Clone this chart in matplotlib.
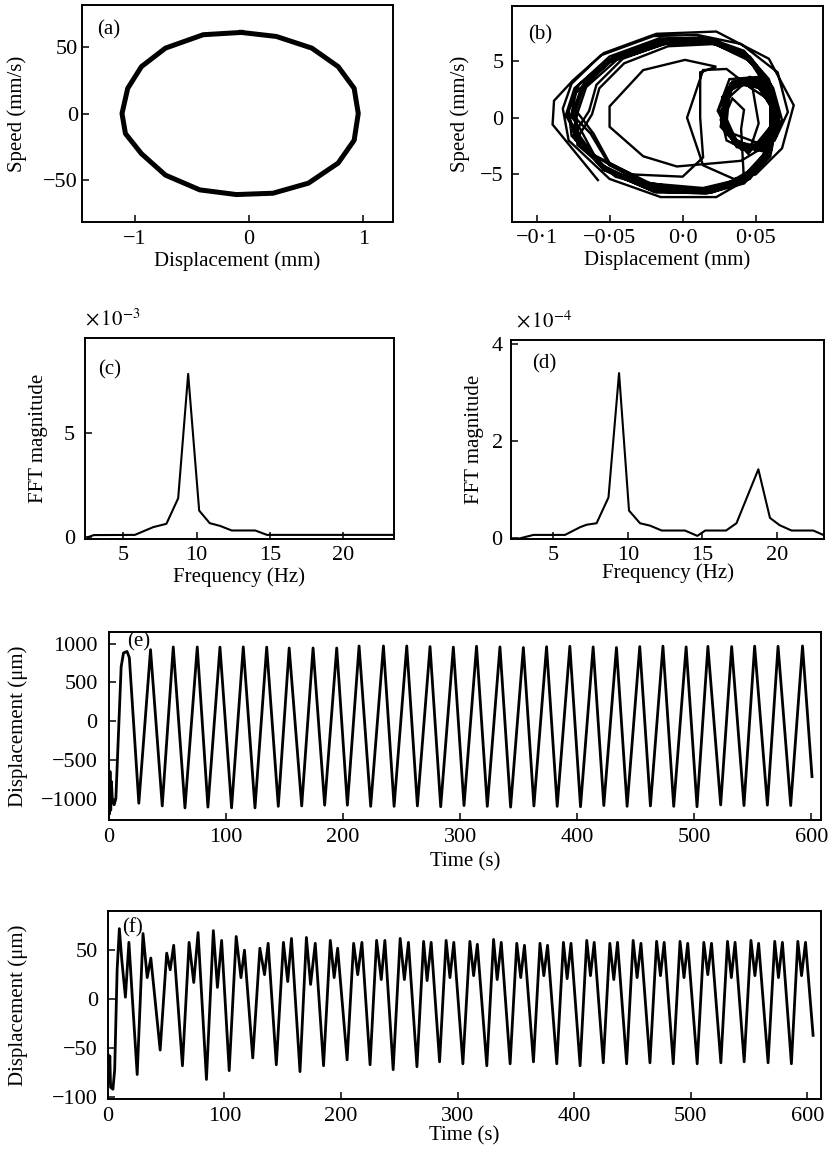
import matplotlib
matplotlib.use('Agg')
from matplotlib import pyplot as plt

plt.rcParams['font.family'] = ['Liberation Serif', 'DejaVu Serif']
plt.rcParams['mathtext.fontset'] = 'stix'
plt.rcParams['axes.unicode_minus'] = True

# (a) phase plane, large orbit
a_disp = [-0.067, 0.24, 0.55, 0.78, 0.92, 0.956, 0.92, 0.78, 0.52, 0.21, -0.11,
          -0.43, -0.73, -0.94, -1.08, -1.11, -1.06, -0.94, -0.73, -0.40, -0.067]
a_speed = [60.5, 57.5, 48.8, 35.0, 18.8, 0.0, -20.0, -37.0, -52.0, -59.5, -60.5,
           -57.0, -46.0, -30.0, -15.0, 0.0, 18.8, 35.0, 48.8, 58.8, 60.5]

# (b) phase plane, small orbit (trajectory vertices)
b_disp = [-0.058, -0.089, -0.088, -0.075, -0.054, -0.018, 0.023, 0.059, 0.076, 0.068, 0.050, 0.035,
          0.014, 0.003, 0.014, 0.030, 0.048, 0.052, 0.045,
          0.037, 0.030, 0.031, 0.034, 0.042, 0.040,
          0.042, 0.023, -0.015, -0.050, -0.078,
          -0.082, -0.076, -0.056, -0.020, 0.010, 0.040, 0.065, 0.072, 0.063, 0.040, 0.023,
          -0.004, -0.027, -0.050, -0.050, -0.027, 0.0016, 0.023, 0.012, 0.012, 0.014, 0.000, -0.035, -0.065,
          -0.080, -0.074, -0.052, -0.018, 0.014, 0.040, 0.058, 0.064, 0.055, 0.030, 0.027, 0.040, 0.060, 0.060, 0.045, 0.018, -0.020, -0.055, -0.076,
          -0.078, -0.071, -0.048, -0.014, 0.018, 0.043, 0.061, 0.066, 0.056, 0.036, 0.024, 0.032, 0.052, 0.063, 0.058, 0.040, 0.012, -0.024, -0.058, -0.075,
          -0.072, -0.066, -0.045, -0.012, 0.020, 0.045, 0.060, 0.062, 0.050, 0.032, 0.028, 0.036, 0.055, 0.066, 0.056, 0.036, 0.008, -0.030, -0.060, -0.070,
          -0.076, -0.070, -0.050, -0.016, 0.016, 0.042, 0.059, 0.065, 0.060, 0.040, 0.026, 0.030, 0.046, 0.062, 0.064, 0.050, 0.024, -0.015, -0.050, -0.073,
          -0.062, -0.057, -0.040, -0.010, 0.022, 0.046, 0.060, 0.060, 0.046, 0.030, 0.025, 0.033, 0.050, 0.062, 0.057, 0.040, 0.014, -0.022, -0.050, -0.061,
          -0.074, -0.066, -0.044, -0.010, 0.022, 0.046, 0.062, 0.068, 0.058, 0.038, 0.029, 0.034, 0.052, 0.065, 0.060, 0.042, 0.016, -0.020, -0.054, -0.072,
          -0.077, -0.073, -0.054, -0.020, 0.012, 0.038, 0.056, 0.064, 0.062, 0.044, 0.030, 0.030, 0.042, 0.058, 0.063, 0.052, 0.028, -0.008, -0.046, -0.072,
          -0.074, -0.068, -0.047, -0.013, 0.019, 0.044, 0.060, 0.063, 0.053, 0.034, 0.027, 0.034, 0.052, 0.064, 0.058, 0.040, 0.012, -0.024, -0.056, -0.073,
          -0.079, -0.072, -0.050, -0.016, 0.016, 0.042, 0.060, 0.066, 0.058, 0.038, 0.026, 0.031, 0.048, 0.063, 0.061, 0.046, 0.020, -0.018, -0.054, -0.075,
          -0.064, -0.059, -0.041, -0.011, 0.021, 0.045, 0.061, 0.064, 0.054, 0.036, 0.027, 0.032, 0.049, 0.064, 0.059, 0.043, 0.016, -0.020, -0.050, -0.063,
          -0.075, -0.069, -0.049, -0.015, 0.017, 0.043, 0.059, 0.064, 0.057, 0.037, 0.028, 0.030, 0.045, 0.061, 0.062, 0.049, 0.022, -0.016, -0.051, -0.073,
          -0.073, -0.067, -0.046, -0.012, 0.020, 0.045, 0.061, 0.066, 0.056, 0.035, 0.026, 0.033, 0.051, 0.065, 0.059, 0.041, 0.014, -0.022, -0.055, -0.071,
          -0.074]
b_speed = [-5.5, -0.6, 1.5, 3.3, 5.7, 7.4, 7.6, 5.2, 1.1, -2.7, -5.0, -5.4,
           -4.2, 0.0, 4.2, 4.3, 2.5, -0.5, -3.2,
           -2.0, -0.5, 0.8, 1.7, 0.7, -1.0,
           -5.6, -7.0, -7.0, -5.4, -2.0,
           0.8, 3.0, 5.5, 7.2, 7.3, 6.5, 4.0, 0.5, -2.0, -3.8, -4.0,
           -4.3, -3.4, -0.8, 1.0, 4.2, 5.1, 4.5, 4.0, 0.0, -3.5, -5.2, -5.0, -3.0,
           0.2, 2.6, 5.0, 6.6, 6.9, 5.8, 3.2, 0.4, -2.4, -1.2, 1.8, 3.2, 1.5, -2.5, -5.0, -6.4, -6.3, -4.4, -1.6,
           0.6, 2.9, 5.3, 6.8, 6.9, 5.5, 2.8, 0.0, -2.8, -2.2, 0.6, 3.4, 3.6, 0.8, -3.2, -5.6, -6.6, -6.1, -4.0, -1.2,
           0.4, 2.7, 5.1, 6.5, 6.6, 5.2, 2.5, -0.4, -2.9, -1.6, 1.2, 3.0, 2.6, -0.2, -3.6, -5.8, -6.4, -5.6, -3.4, -1.0,
           0.1, 2.4, 5.0, 6.9, 7.1, 5.9, 3.4, 0.8, -2.0, -2.8, -0.8, 2.4, 3.6, 2.0, -1.6, -4.6, -6.2, -6.5, -4.8, -2.0,
           0.3, 2.6, 4.8, 6.3, 6.5, 5.0, 2.2, -0.8, -3.0, -2.0, 0.8, 3.0, 3.2, 0.6, -3.0, -5.4, -6.2, -5.8, -4.0, -1.4,
           0.8, 3.2, 5.6, 6.9, 6.8, 5.4, 2.6, -0.2, -3.0, -2.4, 0.2, 2.8, 3.0, 0.2, -3.4, -5.8, -6.7, -6.5, -4.6, -1.8,
           -0.2, 2.2, 4.7, 6.4, 6.8, 5.9, 3.6, 1.0, -1.4, -3.0, -1.4, 1.6, 3.0, 2.4, -1.0, -4.2, -6.0, -6.6, -5.2, -2.4,
           0.5, 2.9, 5.2, 6.7, 6.8, 5.5, 2.8, 0.0, -2.6, -2.0, 0.6, 3.2, 3.4, 0.6, -3.2, -5.6, -6.5, -6.2, -4.2, -1.4,
           0.3, 2.8, 5.4, 7.0, 7.0, 5.7, 3.0, 0.2, -2.6, -2.6, -0.2, 2.6, 3.4, 1.2, -2.8, -5.4, -6.6, -6.6, -4.6, -1.6,
           0.6, 2.9, 5.2, 6.6, 6.6, 5.3, 2.7, -0.2, -2.8, -2.4, 0.0, 2.6, 3.2, 0.4, -3.2, -5.6, -6.4, -6.0, -4.2, -1.4,
           0.2, 2.6, 5.0, 6.7, 6.9, 5.7, 3.1, 0.5, -2.2, -2.6, -0.6, 2.2, 3.3, 1.8, -1.8, -4.8, -6.3, -6.4, -4.6, -1.8,
           0.7, 3.0, 5.4, 6.8, 6.7, 5.3, 2.6, -0.3, -3.0, -2.3, 0.4, 3.0, 3.3, 0.4, -3.3, -5.7, -6.6, -6.3, -4.4, -1.5,
           0.5]

# (c), (d) spectra
c_freq = [2.6, 3.0, 5.8, 7.05, 7.95, 8.75, 9.43, 10.18, 10.9, 11.6, 12.4, 14.0, 14.8, 23.5]
c_mag = [0.0, 0.1, 0.11, 0.48, 0.64, 1.86, 7.8, 1.27, 0.67, 0.54, 0.32, 0.32, 0.11, 0.11]
d_freq = [2.16, 2.76, 3.66, 5.78, 6.8, 7.24, 7.9, 8.7, 9.41, 10.08, 10.82, 11.5, 12.28, 13.84,
          14.67, 15.2, 16.6, 17.3, 18.77, 19.55, 20.2, 21.0, 22.46, 23.13, 23.3]
d_mag = [-0.03, 0.0, 0.07, 0.07, 0.23, 0.28, 0.31, 0.84, 3.4, 0.57, 0.31, 0.26, 0.16, 0.16,
         0.05, 0.16, 0.16, 0.31, 1.42, 0.42, 0.27, 0.16, 0.16, 0.07, 0.07]

# (e) time history, large orbit (peaks/troughs)
e_time = [0, 0.5, 1.0, 1.6, 2.2, 3.0, 4.5, 6.0, 10.5, 12.5, 15.5, 17.5, 25.6,
          35.6, 45.6, 55.0, 65.0, 75.5, 84.6, 94.9, 104.8, 114.8, 124.8, 134.8, 144.7,
          154.0, 164.7, 174.4, 184.3, 194.6, 203.7, 213.7, 223.6, 234.5, 243.6, 254.4, 263.5,
          274.3, 283.4, 294.2, 303.3, 314.0, 323.2, 334.0, 343.1, 354.0, 363.0, 373.8, 382.9,
          393.7, 402.8, 413.6, 422.7, 433.5, 442.6, 453.4, 462.5, 473.2, 482.4, 493.0, 502.3,
          511.6, 522.5, 531.9, 542.4, 551.5, 562.4, 571.5, 582.3, 592.4, 600.5]
e_disp = [-700, -1200, -650, -1150, -780, -1020, -1080, -1000, 700, 880, 900, 820, -1060,
          922, -1095, 957, -1120, 957, -1110, 955, -1120, 958, -1120, 955, -1100,
          944, -1095, 944, -1085, 944, -1085, 970, -1100, 970, -1100, 970, -1095,
          962, -1105, 955, -1090, 966, -1100, 958, -1110, 950, -1095, 960, -1100,
          966, -1105, 958, -1090, 950, -1100, 962, -1095, 968, -1100, 958, -1105,
          965, -1082, 962, -1090, 968, -1085, 966, -1090, 970, -716]

# (f) time history, small orbit
f_time = [0, 0.8, 1.2, 1.8, 2.5, 4.5, 6.0, 8.1, 10.0, 12.1, 15.2, 18.2, 21.2, 25.3,
          30.3, 33.9, 37.0, 45.0, 50.6, 53.6, 56.6, 64.1, 69.8, 73.8, 77.5, 84.7,
          90.6, 94.1, 97.7, 104.2, 110.2, 114.3, 117.3, 124.4, 130.5, 134.5, 137.6, 144.6,
          150.7, 154.4, 157.6, 164.9, 170.4, 174.0, 178.0, 185.1, 190.9, 194.2, 197.2, 205.3,
          210.9, 214.4, 218.0, 225.0, 230.6, 234.6, 237.7, 244.8, 250.8, 254.4, 257.9, 265.2,
          270.9, 273.9, 277.4, 284.6, 290.2, 293.5, 296.8, 304.6, 310.6, 313.8, 317.0, 325.1,
          330.9, 334.0, 337.5, 345.1, 350.8, 354.2, 357.4, 365.1, 370.7, 374.0, 377.2, 385.1,
          390.8, 394.0, 397.3, 405.1, 410.8, 414.0, 417.2, 425.0, 430.6, 434.0, 437.2, 445.0,
          450.6, 454.0, 457.3, 465.0, 470.7, 474.0, 477.2, 485.0, 490.8, 494.2, 497.4, 505.5,
          511.2, 514.6, 517.8, 525.8, 531.5, 534.8, 538.0, 545.8, 551.6, 555.0, 558.2, 566.3,
          572.0, 575.2, 578.6, 586.3, 591.8, 595.0, 598.4, 604.9]
f_disp = [-55, -60, -85, -58, -90, -92, -72, 30, 72, 40, 2, 58, 0, -77,
          67, 22, 42, -52, 47, 30, 55, -68, 58, 17, 68, -82,
          70, 12, 60, -73, 64, 22, 50, -60, 52, 25, 57, -67,
          58, 18, 62, -74, 63, 15, 57, -68, 60, 22, 52, -62,
          57, 25, 58, -67, 60, 20, 60, -72, 62, 20, 58, -69,
          59, 19, 58, -64, 60, 22, 58, -66, 59, 24, 56, -68,
          61, 20, 58, -66, 57, 22, 55, -64, 57, 24, 55, -66,
          58, 21, 57, -68, 60, 24, 58, -65, 57, 20, 58, -66,
          60, 22, 57, -65, 59, 24, 58, -66, 59, 22, 57, -66,
          58, 25, 57, -65, 59, 22, 58, -64, 60, 24, 57, -65,
          59, 22, 58, -66, 59, 24, 58, -37]

fig = plt.figure(figsize=(8.29, 11.57), dpi=100)
FS = 15
FT = 16


def estilo(ax, pad_x=5, pad_y=5):
    ax.tick_params(direction='in', length=5, width=1.1, labelsize=FT, top=False, right=False)
    ax.tick_params(axis='x', pad=pad_x)
    ax.tick_params(axis='y', pad=pad_y)
    for s in ax.spines.values():
        s.set_linewidth(1.4)


def etiquetas(ax, xl, yl, xpos, ypos):
    ax.set_xlabel(xl, fontsize=FS)
    ax.set_ylabel(yl, fontsize=FS)
    ax.xaxis.set_label_coords(0.5, xpos)
    ax.yaxis.set_label_coords(ypos, 0.5)
    ax.xaxis.label.set_va('center')
    ax.yaxis.label.set_va('center')


# (a)
ax = fig.add_axes([0.0989, 0.8081, 0.3752, 0.1876])
ax.plot(a_disp, a_speed, color='black', lw=3.6, solid_joinstyle='round')
ax.set_xlim(-1.46, 1.26)
ax.set_ylim(-81, 81)
ax.set_xticks([-1, 0, 1])
ax.set_yticks([-50, 0, 50])
estilo(ax, 6, 3)
etiquetas(ax, 'Displacement (mm)', 'Speed (mm/s)', -0.178, -0.209)
ax.text(0.05, 0.93, '(a)', transform=ax.transAxes, fontsize=FS, va='top')

# (b)
ax = fig.add_axes([0.6172, 0.8081, 0.3755, 0.1867])
ax.plot(b_disp, b_speed, color='black', lw=1.7, solid_joinstyle='miter')
ax.set_xlim(-0.117, 0.096)
ax.set_ylim(-9.2, 9.85)
ax.set_xticks([-0.1, -0.05, 0.0, 0.05])
ax.set_xticklabels(['\u22120\u00b71', '\u22120\u00b705', '0\u00b70', '0\u00b705'])
ax.set_yticks([-5, 0, 5])
estilo(ax, 5, 6)
etiquetas(ax, 'Displacement (mm)', 'Speed (mm/s)', -0.175, -0.166)
ax.text(0.052, 0.91, '(b)', transform=ax.transAxes, fontsize=FS, va='top')

# (c)
ax = fig.add_axes([0.1025, 0.5339, 0.3727, 0.1737])
ax.plot(c_freq, c_mag, color='black', lw=1.5)
ax.set_xlim(2.4, 23.45)
ax.set_ylim(-0.1, 9.5)
ax.set_xticks([5, 10, 15, 20])
ax.set_yticks([0, 5])
estilo(ax, 5, 7)
etiquetas(ax, 'Frequency (Hz)', 'FFT magnitude', -0.19, -0.152)
ax.text(0.042, 0.89, '(c)', transform=ax.transAxes, fontsize=FS, va='top')
ax.text(0.0, 1.04, r'$\times\,10^{-3}$', transform=ax.transAxes, fontsize=FS, va='bottom')

# (d)
ax = fig.add_axes([0.6164, 0.5339, 0.3779, 0.1722])
ax.plot(d_freq, d_mag, color='black', lw=1.5)
ax.set_xlim(2.15, 23.2)
ax.set_ylim(-0.02, 4.08)
ax.set_xticks([5, 10, 15, 20])
ax.set_yticks([0, 2, 4])
estilo(ax, 5, 6)
etiquetas(ax, 'Frequency (Hz)', 'FFT magnitude', -0.17, -0.115)
ax.text(0.067, 0.93, '(d)', transform=ax.transAxes, fontsize=FS, va='top')
ax.text(0.015, 1.04, r'$\times\,10^{-4}$', transform=ax.transAxes, fontsize=FS, va='bottom')

# (e)
ax = fig.add_axes([0.1313, 0.2913, 0.8595, 0.1625])
ax.plot(e_time, e_disp, color='black', lw=2.0, solid_joinstyle='round')
ax.set_xlim(0, 608.5)
ax.set_ylim(-1276, 1151)
ax.set_xticks([0, 100, 200, 300, 400, 500, 600])
ax.set_yticks([-1000, -500, 0, 500, 1000])
estilo(ax, 6, 8)
etiquetas(ax, 'Time (s)', 'Displacement (\u03bcm)', -0.225, -0.128)
ax.text(0.025, 1.0, '(e)', transform=ax.transAxes, fontsize=FS, va='top')

# (f)
ax = fig.add_axes([0.1299, 0.0501, 0.8609, 0.1625])
ax.plot(f_time, f_disp, color='black', lw=2.0, solid_joinstyle='round')
ax.set_xlim(0, 612)
ax.set_ylim(-102, 90)
ax.set_xticks([0, 100, 200, 300, 400, 500, 600])
ax.set_yticks([-100, -50, 0, 50])
estilo(ax, 6, 7)
etiquetas(ax, 'Time (s)', 'Displacement (\u03bcm)', -0.195, -0.125)
ax.text(0.02, 0.965, '(f)', transform=ax.transAxes, fontsize=FS, va='top')

fig.savefig('out.png', dpi=100)
